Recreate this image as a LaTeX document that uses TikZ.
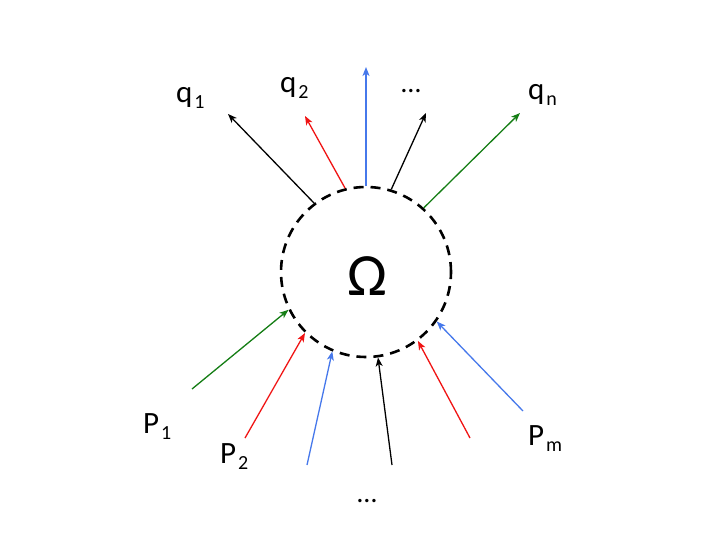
\documentclass[tikz,border=0pt]{standalone}
\usepackage{fontspec}
\setmainfont{Carlito}
\usetikzlibrary{arrows.meta}
\definecolor{cred}{RGB}{240,20,20}
\definecolor{cgreen}{RGB}{20,125,20}
\definecolor{cblue}{RGB}{70,120,235}
\newcommand{\lbl}[2]{#1\kern2pt\raisebox{-6pt}{\fontsize{20}{20}\selectfont #2}}
\tikzset{
  arr/.style={line width=1.3pt,-{Stealth[length=9pt,width=7pt,inset=2.5pt]}},
  lab/.style={font=\fontsize{31}{31}\selectfont,inner sep=0pt,anchor=base west},
  dots/.style={font=\fontsize{28}{28}\selectfont,inner sep=0pt,anchor=base}
}
\begin{document}
\begin{tikzpicture}[x=1pt,y=-1pt]
\useasboundingbox (0,0) rectangle (720,540);
\node[circle,draw,dash pattern=on 10pt off 7pt,line width=2.6pt,minimum size=170pt,inner sep=0pt] (O) at (366,272) {};
\node[font=\fontsize{60}{60}\selectfont,inner sep=0pt,anchor=base] (om) at (367,295) {Ω};
% outgoing end points
\coordinate (e1) at (228,114);
\coordinate (e2) at (305,116);
\coordinate (e3) at (366,67);
\coordinate (e4) at (426,113);
\coordinate (e5) at (520,113);
\draw[arr] (O.127.7) -- (e1);
\draw[arr,cred] (O.104.7) -- (e2);
\draw[arr,cblue] (O.90) -- (e3);
\draw[arr] (O.73) -- (e4);
\draw[arr,cgreen] (O.48.8) -- (e5);
% incoming start points
\coordinate (s1) at (192,389);
\coordinate (s2) at (245,438);
\coordinate (s3) at (307,465);
\coordinate (s4) at (392,465);
\coordinate (s5) at (470,438);
\coordinate (s6) at (523,411);
\draw[arr,cgreen] (s1) -- (O.206);
\draw[arr,cred] (s2) -- (O.225);
\draw[arr,cblue] (s3) -- (O.247.6);
\draw[arr] (s4) -- (O.278);
\draw[arr,cred] (s5) -- (O.307);
\draw[arr,cblue] (s6) -- (O.325);
% labels
\node[lab] (q1) at (176,103) {\lbl{q}{1}};
\node[lab] (q2) at (280,93) {\lbl{q}{2}};
\node[dots] (qd) at (411,93) {\ldots};
\node[lab] (qn) at (528,100) {\lbl{q}{n}};
\node[lab] (p1) at (143,433) {\lbl{P}{1}};
\node[lab] (p2) at (220,463) {\lbl{P}{2}};
\node[lab] (pm) at (528,445) {\lbl{P}{m}};
\node[dots] (pd) at (367,502) {\ldots};
\end{tikzpicture}
\end{document}
